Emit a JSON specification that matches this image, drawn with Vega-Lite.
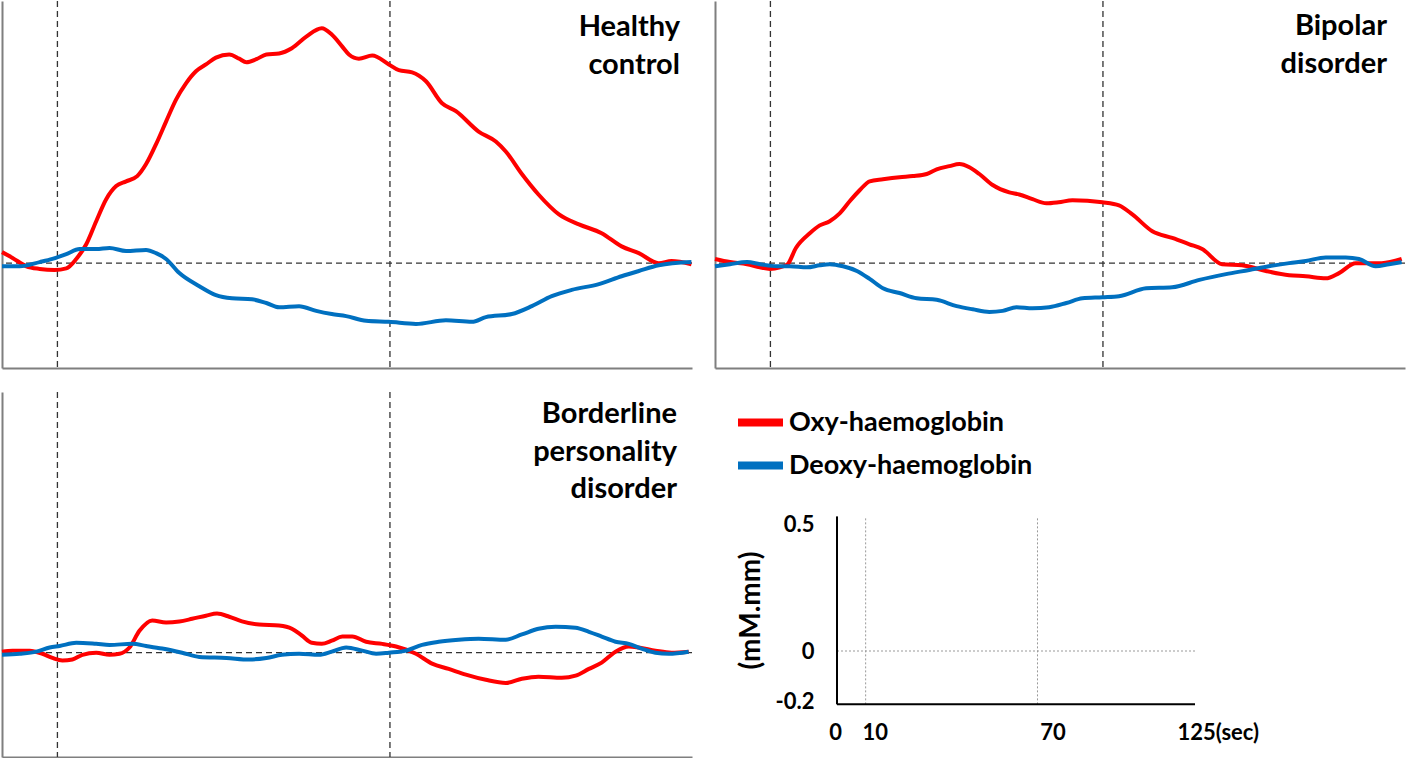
{
"$schema":"https://vega.github.io/schema/vega-lite/v6.json",
"padding":{"left":-6,"top":0,"right":0,"bottom":0},
"background":"white",
"config":{
 "font":"Lato",
 "view":{"stroke":null},
 "axis":{"grid":false,"ticks":false,"tickSize":0,"labels":false,"labelPadding":0,"minExtent":0,"domainColor":"#7f7f7f","domainWidth":2},
 "legend":{"orient":"none","legendX":732,"legendY":395,"symbolType":"stroke","symbolStrokeWidth":8,"symbolSize":2025,"labelFontSize":27,"labelFont":"Lato","labelFontWeight":"bold","labelColor":"black","labelLimit":0,"rowPadding":0,"labelOffset":2,"padding":0,"symbolOpacity":1}
},
"datasets":{
"ev":[{"t":10},{"t":70}],
"curves":[
{"p":"HC","s":"Oxy-haemoglobin","t":0,"v":0.021},{"p":"HC","s":"Oxy-haemoglobin","t":1.9,"v":0.010},{"p":"HC","s":"Oxy-haemoglobin","t":4.4,"v":-0.006},{"p":"HC","s":"Oxy-haemoglobin","t":6.8,"v":-0.011},{"p":"HC","s":"Oxy-haemoglobin","t":9.5,"v":-0.013},{"p":"HC","s":"Oxy-haemoglobin","t":11.6,"v":-0.010},{"p":"HC","s":"Oxy-haemoglobin","t":13.4,"v":0.008},{"p":"HC","s":"Oxy-haemoglobin","t":15.2,"v":0.036},{"p":"HC","s":"Oxy-haemoglobin","t":17.0,"v":0.080},{"p":"HC","s":"Oxy-haemoglobin","t":18.8,"v":0.122},{"p":"HC","s":"Oxy-haemoglobin","t":20.6,"v":0.147},{"p":"HC","s":"Oxy-haemoglobin","t":22.4,"v":0.156},{"p":"HC","s":"Oxy-haemoglobin","t":24.4,"v":0.166},{"p":"HC","s":"Oxy-haemoglobin","t":26.0,"v":0.189},{"p":"HC","s":"Oxy-haemoglobin","t":27.8,"v":0.227},{"p":"HC","s":"Oxy-haemoglobin","t":29.6,"v":0.270},{"p":"HC","s":"Oxy-haemoglobin","t":31.4,"v":0.312},{"p":"HC","s":"Oxy-haemoglobin","t":33.2,"v":0.343},{"p":"HC","s":"Oxy-haemoglobin","t":35.0,"v":0.366},{"p":"HC","s":"Oxy-haemoglobin","t":36.8,"v":0.379},{"p":"HC","s":"Oxy-haemoglobin","t":38.6,"v":0.392},{"p":"HC","s":"Oxy-haemoglobin","t":41.0,"v":0.398},{"p":"HC","s":"Oxy-haemoglobin","t":42.8,"v":0.390},{"p":"HC","s":"Oxy-haemoglobin","t":44.1,"v":0.383},{"p":"HC","s":"Oxy-haemoglobin","t":45.9,"v":0.389},{"p":"HC","s":"Oxy-haemoglobin","t":47.7,"v":0.398},{"p":"HC","s":"Oxy-haemoglobin","t":50.0,"v":0.400},{"p":"HC","s":"Oxy-haemoglobin","t":52.3,"v":0.410},{"p":"HC","s":"Oxy-haemoglobin","t":54.9,"v":0.432},{"p":"HC","s":"Oxy-haemoglobin","t":57.7,"v":0.448},{"p":"HC","s":"Oxy-haemoglobin","t":59.5,"v":0.436},{"p":"HC","s":"Oxy-haemoglobin","t":61.4,"v":0.413},{"p":"HC","s":"Oxy-haemoglobin","t":62.6,"v":0.398},{"p":"HC","s":"Oxy-haemoglobin","t":64.4,"v":0.390},{"p":"HC","s":"Oxy-haemoglobin","t":66.8,"v":0.396},{"p":"HC","s":"Oxy-haemoglobin","t":69.8,"v":0.379},{"p":"HC","s":"Oxy-haemoglobin","t":71.6,"v":0.368},{"p":"HC","s":"Oxy-haemoglobin","t":74.0,"v":0.364},{"p":"HC","s":"Oxy-haemoglobin","t":76.5,"v":0.347},{"p":"HC","s":"Oxy-haemoglobin","t":79.4,"v":0.305},{"p":"HC","s":"Oxy-haemoglobin","t":81.9,"v":0.290},{"p":"HC","s":"Oxy-haemoglobin","t":86.0,"v":0.251},{"p":"HC","s":"Oxy-haemoglobin","t":89.1,"v":0.232},{"p":"HC","s":"Oxy-haemoglobin","t":90.9,"v":0.213},{"p":"HC","s":"Oxy-haemoglobin","t":93.8,"v":0.170},{"p":"HC","s":"Oxy-haemoglobin","t":96.8,"v":0.131},{"p":"HC","s":"Oxy-haemoglobin","t":100.5,"v":0.093},{"p":"HC","s":"Oxy-haemoglobin","t":104.1,"v":0.074},{"p":"HC","s":"Oxy-haemoglobin","t":108.2,"v":0.057},{"p":"HC","s":"Oxy-haemoglobin","t":111.8,"v":0.032},{"p":"HC","s":"Oxy-haemoglobin","t":114.9,"v":0.019},{"p":"HC","s":"Oxy-haemoglobin","t":118.5,"v":0.000},{"p":"HC","s":"Oxy-haemoglobin","t":120.8,"v":0.004},{"p":"HC","s":"Oxy-haemoglobin","t":124.4,"v":-0.002},
{"p":"HC","s":"Deoxy-haemoglobin","t":0,"v":-0.006},{"p":"HC","s":"Deoxy-haemoglobin","t":3.2,"v":-0.006},{"p":"HC","s":"Deoxy-haemoglobin","t":6.8,"v":0.002},{"p":"HC","s":"Deoxy-haemoglobin","t":9.1,"v":0.008},{"p":"HC","s":"Deoxy-haemoglobin","t":11.6,"v":0.017},{"p":"HC","s":"Deoxy-haemoglobin","t":14.0,"v":0.027},{"p":"HC","s":"Deoxy-haemoglobin","t":17.0,"v":0.027},{"p":"HC","s":"Deoxy-haemoglobin","t":19.4,"v":0.029},{"p":"HC","s":"Deoxy-haemoglobin","t":22.4,"v":0.023},{"p":"HC","s":"Deoxy-haemoglobin","t":26.0,"v":0.025},{"p":"HC","s":"Deoxy-haemoglobin","t":27.8,"v":0.019},{"p":"HC","s":"Deoxy-haemoglobin","t":29.6,"v":0.008},{"p":"HC","s":"Deoxy-haemoglobin","t":32.0,"v":-0.019},{"p":"HC","s":"Deoxy-haemoglobin","t":35.6,"v":-0.044},{"p":"HC","s":"Deoxy-haemoglobin","t":38.6,"v":-0.061},{"p":"HC","s":"Deoxy-haemoglobin","t":41.5,"v":-0.067},{"p":"HC","s":"Deoxy-haemoglobin","t":45.1,"v":-0.069},{"p":"HC","s":"Deoxy-haemoglobin","t":47.7,"v":-0.076},{"p":"HC","s":"Deoxy-haemoglobin","t":50.0,"v":-0.084},{"p":"HC","s":"Deoxy-haemoglobin","t":53.6,"v":-0.082},{"p":"HC","s":"Deoxy-haemoglobin","t":56.7,"v":-0.091},{"p":"HC","s":"Deoxy-haemoglobin","t":59.5,"v":-0.097},{"p":"HC","s":"Deoxy-haemoglobin","t":62.1,"v":-0.101},{"p":"HC","s":"Deoxy-haemoglobin","t":65.7,"v":-0.110},{"p":"HC","s":"Deoxy-haemoglobin","t":69.8,"v":-0.112},{"p":"HC","s":"Deoxy-haemoglobin","t":74.7,"v":-0.116},{"p":"HC","s":"Deoxy-haemoglobin","t":80.1,"v":-0.109},{"p":"HC","s":"Deoxy-haemoglobin","t":84.8,"v":-0.112},{"p":"HC","s":"Deoxy-haemoglobin","t":87.3,"v":-0.103},{"p":"HC","s":"Deoxy-haemoglobin","t":92.0,"v":-0.097},{"p":"HC","s":"Deoxy-haemoglobin","t":95.6,"v":-0.082},{"p":"HC","s":"Deoxy-haemoglobin","t":99.2,"v":-0.063},{"p":"HC","s":"Deoxy-haemoglobin","t":102.8,"v":-0.051},{"p":"HC","s":"Deoxy-haemoglobin","t":107.7,"v":-0.040},{"p":"HC","s":"Deoxy-haemoglobin","t":111.8,"v":-0.025},{"p":"HC","s":"Deoxy-haemoglobin","t":114.9,"v":-0.015},{"p":"HC","s":"Deoxy-haemoglobin","t":118.5,"v":-0.004},{"p":"HC","s":"Deoxy-haemoglobin","t":124.4,"v":0.002},
{"p":"BD","s":"Oxy-haemoglobin","t":0,"v":0.008},{"p":"BD","s":"Oxy-haemoglobin","t":2.7,"v":0.002},{"p":"BD","s":"Oxy-haemoglobin","t":5.8,"v":-0.002},{"p":"BD","s":"Oxy-haemoglobin","t":8.1,"v":-0.008},{"p":"BD","s":"Oxy-haemoglobin","t":9.9,"v":-0.011},{"p":"BD","s":"Oxy-haemoglobin","t":11.7,"v":-0.008},{"p":"BD","s":"Oxy-haemoglobin","t":13.1,"v":-0.002},{"p":"BD","s":"Oxy-haemoglobin","t":14.6,"v":0.029},{"p":"BD","s":"Oxy-haemoglobin","t":17.1,"v":0.057},{"p":"BD","s":"Oxy-haemoglobin","t":18.9,"v":0.072},{"p":"BD","s":"Oxy-haemoglobin","t":20.7,"v":0.080},{"p":"BD","s":"Oxy-haemoglobin","t":22.5,"v":0.095},{"p":"BD","s":"Oxy-haemoglobin","t":24.3,"v":0.118},{"p":"BD","s":"Oxy-haemoglobin","t":26.1,"v":0.139},{"p":"BD","s":"Oxy-haemoglobin","t":27.9,"v":0.156},{"p":"BD","s":"Oxy-haemoglobin","t":30.3,"v":0.160},{"p":"BD","s":"Oxy-haemoglobin","t":33.3,"v":0.164},{"p":"BD","s":"Oxy-haemoglobin","t":35.7,"v":0.166},{"p":"BD","s":"Oxy-haemoglobin","t":38.2,"v":0.170},{"p":"BD","s":"Oxy-haemoglobin","t":40.0,"v":0.179},{"p":"BD","s":"Oxy-haemoglobin","t":42.3,"v":0.185},{"p":"BD","s":"Oxy-haemoglobin","t":44.1,"v":0.189},{"p":"BD","s":"Oxy-haemoglobin","t":45.9,"v":0.183},{"p":"BD","s":"Oxy-haemoglobin","t":47.7,"v":0.170},{"p":"BD","s":"Oxy-haemoglobin","t":50.1,"v":0.149},{"p":"BD","s":"Oxy-haemoglobin","t":53.1,"v":0.135},{"p":"BD","s":"Oxy-haemoglobin","t":54.9,"v":0.131},{"p":"BD","s":"Oxy-haemoglobin","t":57.3,"v":0.122},{"p":"BD","s":"Oxy-haemoglobin","t":59.8,"v":0.114},{"p":"BD","s":"Oxy-haemoglobin","t":62.0,"v":0.116},{"p":"BD","s":"Oxy-haemoglobin","t":64.5,"v":0.120},{"p":"BD","s":"Oxy-haemoglobin","t":69.9,"v":0.116},{"p":"BD","s":"Oxy-haemoglobin","t":72.9,"v":0.110},{"p":"BD","s":"Oxy-haemoglobin","t":75.3,"v":0.093},{"p":"BD","s":"Oxy-haemoglobin","t":78.9,"v":0.061},{"p":"BD","s":"Oxy-haemoglobin","t":82.5,"v":0.048},{"p":"BD","s":"Oxy-haemoglobin","t":85.6,"v":0.036},{"p":"BD","s":"Oxy-haemoglobin","t":87.9,"v":0.027},{"p":"BD","s":"Oxy-haemoglobin","t":91.5,"v":-0.002},{"p":"BD","s":"Oxy-haemoglobin","t":95.1,"v":-0.004},{"p":"BD","s":"Oxy-haemoglobin","t":99.4,"v":-0.015},{"p":"BD","s":"Oxy-haemoglobin","t":103.6,"v":-0.023},{"p":"BD","s":"Oxy-haemoglobin","t":106.6,"v":-0.025},{"p":"BD","s":"Oxy-haemoglobin","t":110.2,"v":-0.029},{"p":"BD","s":"Oxy-haemoglobin","t":112.6,"v":-0.019},{"p":"BD","s":"Oxy-haemoglobin","t":115.6,"v":0.000},{"p":"BD","s":"Oxy-haemoglobin","t":118.0,"v":0.000},{"p":"BD","s":"Oxy-haemoglobin","t":120.3,"v":0.000},{"p":"BD","s":"Oxy-haemoglobin","t":123.9,"v":0.008},
{"p":"BD","s":"Deoxy-haemoglobin","t":0,"v":-0.006},{"p":"BD","s":"Deoxy-haemoglobin","t":2.7,"v":-0.002},{"p":"BD","s":"Deoxy-haemoglobin","t":5.8,"v":0.002},{"p":"BD","s":"Deoxy-haemoglobin","t":8.1,"v":-0.002},{"p":"BD","s":"Deoxy-haemoglobin","t":11.2,"v":-0.006},{"p":"BD","s":"Deoxy-haemoglobin","t":13.5,"v":-0.006},{"p":"BD","s":"Deoxy-haemoglobin","t":16.6,"v":-0.008},{"p":"BD","s":"Deoxy-haemoglobin","t":18.9,"v":-0.004},{"p":"BD","s":"Deoxy-haemoglobin","t":20.7,"v":-0.002},{"p":"BD","s":"Deoxy-haemoglobin","t":23.1,"v":-0.006},{"p":"BD","s":"Deoxy-haemoglobin","t":25.6,"v":-0.015},{"p":"BD","s":"Deoxy-haemoglobin","t":27.9,"v":-0.030},{"p":"BD","s":"Deoxy-haemoglobin","t":30.3,"v":-0.048},{"p":"BD","s":"Deoxy-haemoglobin","t":33.3,"v":-0.057},{"p":"BD","s":"Deoxy-haemoglobin","t":36.4,"v":-0.067},{"p":"BD","s":"Deoxy-haemoglobin","t":40.0,"v":-0.070},{"p":"BD","s":"Deoxy-haemoglobin","t":43.6,"v":-0.082},{"p":"BD","s":"Deoxy-haemoglobin","t":46.5,"v":-0.088},{"p":"BD","s":"Deoxy-haemoglobin","t":49.5,"v":-0.093},{"p":"BD","s":"Deoxy-haemoglobin","t":51.9,"v":-0.091},{"p":"BD","s":"Deoxy-haemoglobin","t":54.4,"v":-0.084},{"p":"BD","s":"Deoxy-haemoglobin","t":57.3,"v":-0.086},{"p":"BD","s":"Deoxy-haemoglobin","t":60.3,"v":-0.084},{"p":"BD","s":"Deoxy-haemoglobin","t":63.4,"v":-0.076},{"p":"BD","s":"Deoxy-haemoglobin","t":66.3,"v":-0.067},{"p":"BD","s":"Deoxy-haemoglobin","t":69.9,"v":-0.065},{"p":"BD","s":"Deoxy-haemoglobin","t":72.9,"v":-0.063},{"p":"BD","s":"Deoxy-haemoglobin","t":77.8,"v":-0.048},{"p":"BD","s":"Deoxy-haemoglobin","t":82.5,"v":-0.046},{"p":"BD","s":"Deoxy-haemoglobin","t":87.4,"v":-0.032},{"p":"BD","s":"Deoxy-haemoglobin","t":92.2,"v":-0.021},{"p":"BD","s":"Deoxy-haemoglobin","t":96.4,"v":-0.013},{"p":"BD","s":"Deoxy-haemoglobin","t":99.9,"v":-0.006},{"p":"BD","s":"Deoxy-haemoglobin","t":103.6,"v":0.000},{"p":"BD","s":"Deoxy-haemoglobin","t":106.6,"v":0.004},{"p":"BD","s":"Deoxy-haemoglobin","t":110.2,"v":0.011},{"p":"BD","s":"Deoxy-haemoglobin","t":113.8,"v":0.011},{"p":"BD","s":"Deoxy-haemoglobin","t":116.2,"v":0.008},{"p":"BD","s":"Deoxy-haemoglobin","t":119.2,"v":-0.006},{"p":"BD","s":"Deoxy-haemoglobin","t":121.6,"v":-0.002},{"p":"BD","s":"Deoxy-haemoglobin","t":123.9,"v":0.002},
{"p":"BPD","s":"Oxy-haemoglobin","t":0,"v":0.002},{"p":"BPD","s":"Oxy-haemoglobin","t":1.9,"v":0.004},{"p":"BPD","s":"Oxy-haemoglobin","t":5.0,"v":0.004},{"p":"BPD","s":"Oxy-haemoglobin","t":7.3,"v":-0.002},{"p":"BPD","s":"Oxy-haemoglobin","t":9.1,"v":-0.010},{"p":"BPD","s":"Oxy-haemoglobin","t":10.9,"v":-0.015},{"p":"BPD","s":"Oxy-haemoglobin","t":12.7,"v":-0.013},{"p":"BPD","s":"Oxy-haemoglobin","t":14.5,"v":-0.004},{"p":"BPD","s":"Oxy-haemoglobin","t":17.0,"v":0.000},{"p":"BPD","s":"Oxy-haemoglobin","t":19.4,"v":-0.004},{"p":"BPD","s":"Oxy-haemoglobin","t":21.2,"v":-0.002},{"p":"BPD","s":"Oxy-haemoglobin","t":23.0,"v":0.010},{"p":"BPD","s":"Oxy-haemoglobin","t":24.8,"v":0.042},{"p":"BPD","s":"Oxy-haemoglobin","t":27.1,"v":0.062},{"p":"BPD","s":"Oxy-haemoglobin","t":29.6,"v":0.058},{"p":"BPD","s":"Oxy-haemoglobin","t":32.0,"v":0.060},{"p":"BPD","s":"Oxy-haemoglobin","t":34.3,"v":0.065},{"p":"BPD","s":"Oxy-haemoglobin","t":36.8,"v":0.071},{"p":"BPD","s":"Oxy-haemoglobin","t":38.8,"v":0.075},{"p":"BPD","s":"Oxy-haemoglobin","t":41.0,"v":0.069},{"p":"BPD","s":"Oxy-haemoglobin","t":43.3,"v":0.060},{"p":"BPD","s":"Oxy-haemoglobin","t":46.4,"v":0.054},{"p":"BPD","s":"Oxy-haemoglobin","t":50.0,"v":0.052},{"p":"BPD","s":"Oxy-haemoglobin","t":52.3,"v":0.046},{"p":"BPD","s":"Oxy-haemoglobin","t":54.1,"v":0.033},{"p":"BPD","s":"Oxy-haemoglobin","t":55.9,"v":0.019},{"p":"BPD","s":"Oxy-haemoglobin","t":57.7,"v":0.017},{"p":"BPD","s":"Oxy-haemoglobin","t":59.5,"v":0.023},{"p":"BPD","s":"Oxy-haemoglobin","t":61.4,"v":0.031},{"p":"BPD","s":"Oxy-haemoglobin","t":63.2,"v":0.031},{"p":"BPD","s":"Oxy-haemoglobin","t":65.7,"v":0.021},{"p":"BPD","s":"Oxy-haemoglobin","t":68.6,"v":0.017},{"p":"BPD","s":"Oxy-haemoglobin","t":71.1,"v":0.012},{"p":"BPD","s":"Oxy-haemoglobin","t":74.7,"v":-0.002},{"p":"BPD","s":"Oxy-haemoglobin","t":77.6,"v":-0.021},{"p":"BPD","s":"Oxy-haemoglobin","t":80.6,"v":-0.031},{"p":"BPD","s":"Oxy-haemoglobin","t":83.7,"v":-0.042},{"p":"BPD","s":"Oxy-haemoglobin","t":87.3,"v":-0.052},{"p":"BPD","s":"Oxy-haemoglobin","t":90.9,"v":-0.058},{"p":"BPD","s":"Oxy-haemoglobin","t":93.8,"v":-0.050},{"p":"BPD","s":"Oxy-haemoglobin","t":96.8,"v":-0.046},{"p":"BPD","s":"Oxy-haemoglobin","t":101.0,"v":-0.048},{"p":"BPD","s":"Oxy-haemoglobin","t":103.5,"v":-0.044},{"p":"BPD","s":"Oxy-haemoglobin","t":105.9,"v":-0.031},{"p":"BPD","s":"Oxy-haemoglobin","t":108.2,"v":-0.019},{"p":"BPD","s":"Oxy-haemoglobin","t":110.7,"v":0.002},{"p":"BPD","s":"Oxy-haemoglobin","t":113.1,"v":0.012},{"p":"BPD","s":"Oxy-haemoglobin","t":114.9,"v":0.010},{"p":"BPD","s":"Oxy-haemoglobin","t":117.9,"v":0.004},{"p":"BPD","s":"Oxy-haemoglobin","t":120.8,"v":0.000},{"p":"BPD","s":"Oxy-haemoglobin","t":123.9,"v":0.002},
{"p":"BPD","s":"Deoxy-haemoglobin","t":0,"v":-0.004},{"p":"BPD","s":"Deoxy-haemoglobin","t":3.2,"v":-0.002},{"p":"BPD","s":"Deoxy-haemoglobin","t":6.2,"v":0.002},{"p":"BPD","s":"Deoxy-haemoglobin","t":8.6,"v":0.010},{"p":"BPD","s":"Deoxy-haemoglobin","t":10.4,"v":0.013},{"p":"BPD","s":"Deoxy-haemoglobin","t":13.4,"v":0.019},{"p":"BPD","s":"Deoxy-haemoglobin","t":17.0,"v":0.017},{"p":"BPD","s":"Deoxy-haemoglobin","t":19.4,"v":0.015},{"p":"BPD","s":"Deoxy-haemoglobin","t":23.5,"v":0.017},{"p":"BPD","s":"Deoxy-haemoglobin","t":26.0,"v":0.013},{"p":"BPD","s":"Deoxy-haemoglobin","t":28.9,"v":0.008},{"p":"BPD","s":"Deoxy-haemoglobin","t":32.5,"v":0.000},{"p":"BPD","s":"Deoxy-haemoglobin","t":35.6,"v":-0.008},{"p":"BPD","s":"Deoxy-haemoglobin","t":40.5,"v":-0.010},{"p":"BPD","s":"Deoxy-haemoglobin","t":44.6,"v":-0.013},{"p":"BPD","s":"Deoxy-haemoglobin","t":47.7,"v":-0.010},{"p":"BPD","s":"Deoxy-haemoglobin","t":50.5,"v":-0.004},{"p":"BPD","s":"Deoxy-haemoglobin","t":53.6,"v":-0.002},{"p":"BPD","s":"Deoxy-haemoglobin","t":57.2,"v":-0.004},{"p":"BPD","s":"Deoxy-haemoglobin","t":59.5,"v":0.002},{"p":"BPD","s":"Deoxy-haemoglobin","t":62.1,"v":0.010},{"p":"BPD","s":"Deoxy-haemoglobin","t":65.0,"v":0.004},{"p":"BPD","s":"Deoxy-haemoglobin","t":67.5,"v":-0.002},{"p":"BPD","s":"Deoxy-haemoglobin","t":69.8,"v":0.000},{"p":"BPD","s":"Deoxy-haemoglobin","t":72.9,"v":0.004},{"p":"BPD","s":"Deoxy-haemoglobin","t":75.8,"v":0.015},{"p":"BPD","s":"Deoxy-haemoglobin","t":78.8,"v":0.021},{"p":"BPD","s":"Deoxy-haemoglobin","t":82.4,"v":0.025},{"p":"BPD","s":"Deoxy-haemoglobin","t":86.0,"v":0.027},{"p":"BPD","s":"Deoxy-haemoglobin","t":90.9,"v":0.025},{"p":"BPD","s":"Deoxy-haemoglobin","t":93.8,"v":0.035},{"p":"BPD","s":"Deoxy-haemoglobin","t":96.8,"v":0.046},{"p":"BPD","s":"Deoxy-haemoglobin","t":99.9,"v":0.050},{"p":"BPD","s":"Deoxy-haemoglobin","t":103.5,"v":0.048},{"p":"BPD","s":"Deoxy-haemoglobin","t":105.9,"v":0.040},{"p":"BPD","s":"Deoxy-haemoglobin","t":108.2,"v":0.031},{"p":"BPD","s":"Deoxy-haemoglobin","t":110.7,"v":0.021},{"p":"BPD","s":"Deoxy-haemoglobin","t":113.1,"v":0.017},{"p":"BPD","s":"Deoxy-haemoglobin","t":115.4,"v":0.008},{"p":"BPD","s":"Deoxy-haemoglobin","t":117.9,"v":0.000},{"p":"BPD","s":"Deoxy-haemoglobin","t":120.3,"v":-0.002},{"p":"BPD","s":"Deoxy-haemoglobin","t":123.9,"v":0.002}
]},
"concat":[
 {"width":690,"height":367,
  "layer":[
   {"data":{"name":"ev"},"mark":{"type":"rule","strokeDash":[6,4],"color":"#333","strokeWidth":1.3},"encoding":{"x":{"field":"t","type":"quantitative","title":null,"scale":{"domain":[0,124.5],"nice":false,"zero":false}}}},
   {"data":{"values":[{}]},"mark":{"type":"rule","strokeDash":[6,4],"color":"#333","strokeWidth":1.3},"encoding":{"y":{"datum":0,"type":"quantitative","title":null,"scale":{"domain":[-0.2,0.5],"nice":false,"zero":false}}}},
   {"data":{"name":"curves"},"transform":[{"filter":"datum.p == 'HC'"}],"mark":{"type":"line","strokeWidth":4,"interpolate":"monotone"},
    "encoding":{"x":{"field":"t","type":"quantitative","title":null},"y":{"field":"v","type":"quantitative","title":null},
     "color":{"field":"s","type":"nominal","title":null,"scale":{"domain":["Oxy-haemoglobin","Deoxy-haemoglobin"],"range":["#FF0000","#0070C0"]}}}},
   {"data":{"values":[{}]},"mark":{"type":"text","text":["Healthy","control"],"align":"right","baseline":"alphabetic","dx":-12,"dy":35,"fontSize":29,"font":"Lato","fontWeight":"bold","lineHeight":37.5,"color":"black"},
    "encoding":{"x":{"datum":124.5,"type":"quantitative"},"y":{"datum":0.5,"type":"quantitative"}}}
  ]},
 {"width":690,"height":367,
  "layer":[
   {"data":{"name":"ev"},"mark":{"type":"rule","strokeDash":[6,4],"color":"#333","strokeWidth":1.3},"encoding":{"x":{"field":"t","type":"quantitative","title":null,"scale":{"domain":[0,124.5],"nice":false,"zero":false}}}},
   {"data":{"values":[{}]},"mark":{"type":"rule","strokeDash":[6,4],"color":"#333","strokeWidth":1.3},"encoding":{"y":{"datum":0,"type":"quantitative","title":null,"scale":{"domain":[-0.2,0.5],"nice":false,"zero":false}}}},
   {"data":{"name":"curves"},"transform":[{"filter":"datum.p == 'BD'"}],"mark":{"type":"line","strokeWidth":4,"interpolate":"monotone"},
    "encoding":{"x":{"field":"t","type":"quantitative","title":null},"y":{"field":"v","type":"quantitative","title":null},
     "color":{"field":"s","type":"nominal","title":null,"scale":{"domain":["Oxy-haemoglobin","Deoxy-haemoglobin"],"range":["#FF0000","#0070C0"]}}}},
   {"data":{"values":[{}]},"mark":{"type":"text","text":["Bipolar","disorder"],"align":"right","baseline":"alphabetic","dx":-18,"dy":34,"fontSize":29,"font":"Lato","fontWeight":"bold","lineHeight":37.5,"color":"black"},
    "encoding":{"x":{"datum":124.5,"type":"quantitative"},"y":{"datum":0.5,"type":"quantitative"}}}
  ]},
 {"width":690,"height":365,
  "layer":[
   {"data":{"name":"ev"},"mark":{"type":"rule","strokeDash":[6,4],"color":"#333","strokeWidth":1.3},"encoding":{"x":{"field":"t","type":"quantitative","title":null,"scale":{"domain":[0,124.5],"nice":false,"zero":false}}}},
   {"data":{"values":[{}]},"mark":{"type":"rule","strokeDash":[6,4],"color":"#333","strokeWidth":1.3},"encoding":{"y":{"datum":0,"type":"quantitative","title":null,"scale":{"domain":[-0.2,0.5],"nice":false,"zero":false}}}},
   {"data":{"name":"curves"},"transform":[{"filter":"datum.p == 'BPD'"}],"mark":{"type":"line","strokeWidth":4,"interpolate":"monotone"},
    "encoding":{"x":{"field":"t","type":"quantitative","title":null},"y":{"field":"v","type":"quantitative","title":null},
     "color":{"field":"s","type":"nominal","title":null,"scale":{"domain":["Oxy-haemoglobin","Deoxy-haemoglobin"],"range":["#FF0000","#0070C0"]}}}},
   {"data":{"values":[{}]},"mark":{"type":"text","text":["Borderline","personality","disorder"],"align":"right","baseline":"alphabetic","dx":-15,"dy":31,"fontSize":29,"font":"Lato","fontWeight":"bold","lineHeight":37.5,"color":"black"},
    "encoding":{"x":{"datum":124.5,"type":"quantitative"},"y":{"datum":0.5,"type":"quantitative"}}}
  ]},
 {"width":690,"height":365,
  "layer":[
   {"data":{"name":"ev"},"mark":{"type":"rule","strokeDash":[2,2],"color":"#999","strokeWidth":1},
    "encoding":{
     "x":{"field":"t","type":"quantitative","title":null,"scale":{"domain":[-42.6,198.32],"nice":false,"zero":false},
      "axis":{"domain":false,"offset":-53,"labels":true,"values":[0,10,70,125],"labelExpr":"datum.value == 125 ? '125(sec)' : '' + datum.value","labelFontSize":22,"labelFont":"Lato","labelFontWeight":"bold","labelColor":"black","labelPadding":18,"labelFlush":false,"labelOverlap":false,"labelBound":false,
       "labelAlign":{"condition":{"test":"datum.value == 125","value":"left"},"value":"center"},
       "labelOffset":{"condition":[{"test":"datum.value == 125","value":-18},{"test":"datum.value == 70","value":15},{"test":"datum.value == 10","value":9}],"value":-2}}},
     "y":{"datum":-0.21,"type":"quantitative","scale":{"domain":[-0.4173,1.0197],"nice":false,"zero":false},
      "axis":{"domain":false,"offset":-122,"labels":true,"values":[0.5,0,-0.2],"labelExpr":"'' + datum.value","labelFontSize":22,"labelFont":"Lato","labelFontWeight":"bold","labelColor":"black","labelPadding":23,"labelFlush":false,"labelOverlap":false,"labelBound":false,
       "title":"(mM.mm)","titleFontSize":28,"titleFont":"Lato","titleFontWeight":"bold","titleColor":"black","titlePadding":10,"titleY":218}},
     "y2":{"datum":0.53}}},
   {"data":{"values":[{}]},"mark":{"type":"rule","strokeDash":[2,2],"color":"#999","strokeWidth":1},
    "encoding":{"y":{"datum":0,"type":"quantitative"},"x":{"datum":0,"type":"quantitative"},"x2":{"datum":125}}},
   {"data":{"values":[{}]},"mark":{"type":"rule","color":"black","strokeWidth":2},
    "encoding":{"x":{"datum":0,"type":"quantitative"},"y":{"datum":-0.21,"type":"quantitative"},"y2":{"datum":0.53}}},
   {"data":{"values":[{}]},"mark":{"type":"rule","color":"black","strokeWidth":2},
    "encoding":{"y":{"datum":-0.21,"type":"quantitative"},"x":{"datum":0,"type":"quantitative"},"x2":{"datum":125}}}
  ]}
],
"columns":2,
"spacing":{"row":24,"column":23},
"bounds":"flush"
}
